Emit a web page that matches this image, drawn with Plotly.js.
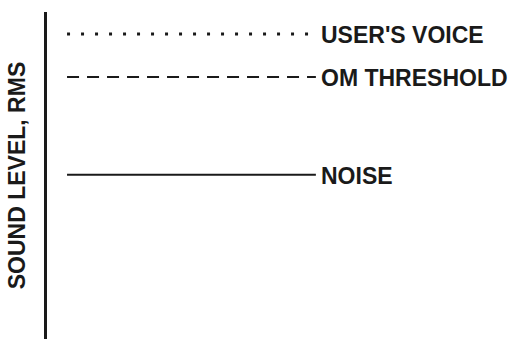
<!DOCTYPE html>
<html>
<head>
<meta charset="utf-8">
<script src="https://cdn.plot.ly/plotly-3.0.1.min.js"></script>
<style>
  html, body { margin: 0; padding: 0; background: #fff; }
  #chart { width: 513px; height: 339px; }
</style>
</head>
<body>
<div id="chart"></div>
<script>
// levels (arbitrary units), top to bottom
var levelNames = ["USER'S VOICE", 'OM THRESHOLD', 'NOISE'];
var levelValues = [9.33, 8.01, 5.02];
var lineStart = 0.043;
var lineEnd = 0.577;

var dashes = ['3px,11px', '12px,8px', 'solid'];
var widths = [3, 2, 2];

var traces = [];
var notes = [];
levelNames.forEach(function (name, i) {
    traces.push({
        x: [lineStart, lineEnd],
        y: [levelValues[i], levelValues[i]],
        mode: 'lines',
        line: {color: '#1a1a1a', width: widths[i], dash: dashes[i]},
        hoverinfo: 'skip'
    });
    notes.push({
        x: lineEnd, y: levelValues[i],
        xref: 'x', yref: 'y',
        text: '<b>' + name + '</b>',
        showarrow: false,
        xanchor: 'left', yanchor: 'middle',
        xshift: 3, yshift: -1,
        font: {family: 'Liberation Sans, Arial, sans-serif', size: 23, color: '#1a1a1a'}
    });
});

var layout = {
    width: 513,
    height: 339,
    margin: {l: 47, r: 0, t: 12, b: 0},
    paper_bgcolor: '#fff',
    plot_bgcolor: '#fff',
    showlegend: false,
    xaxis: {range: [0, 1], visible: false, fixedrange: true},
    yaxis: {
        range: [0, 10],
        showline: true, linewidth: 3, linecolor: '#1a1a1a',
        showgrid: false, zeroline: false,
        showticklabels: false, ticks: '',
        title: {
            text: '<b>SOUND LEVEL, RMS</b>',
            standoff: 12,
            font: {family: 'Liberation Sans, Arial, sans-serif', size: 23, color: '#1a1a1a'}
        },
        fixedrange: true
    },
    annotations: notes
};

Plotly.newPlot('chart', traces, layout, {displayModeBar: false, staticPlot: true});
</script>
</body>
</html>
